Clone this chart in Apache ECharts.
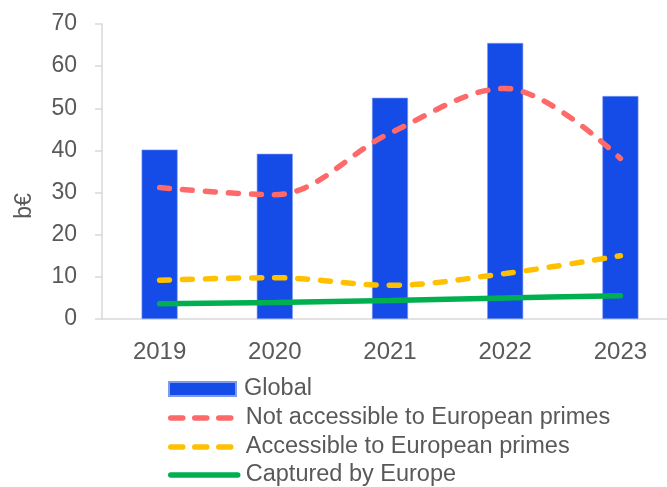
<!DOCTYPE html>
<html>
<head>
<meta charset="utf-8">
<script src="https://cdn.jsdelivr.net/npm/echarts@6/dist/echarts.min.js"></script>
<style>
  html, body { margin: 0; padding: 0; background: #ffffff; }
  #chart { width: 667px; height: 487px; }
</style>
</head>
<body>
<div id="chart"></div>
<script>
// Market size by year, in billions of euros
const years = ['2019', '2020', '2021', '2022', '2023'];
const globalValues = [40.2, 39.2, 52.5, 65.5, 52.9];
const notAccessible = [31.2, 29.5, 44.1, 54.7, 38.1];
const accessible = [9.2, 9.8, 8.0, 10.8, 15.0];
const captured = [3.6, 3.9, 4.4, 5.0, 5.5];
const yTicks = { min: 0, max: 70, interval: 10 };

const seriesNames = [
  'Global',
  'Not accessible to European primes',
  'Accessible to European primes',
  'Captured by Europe'
];

const FONT = '"Liberation Sans", Arial, sans-serif';
const TEXT = '#595959';
const AXIS = '#D9D9D9';
const COLORS = { global: '#154BE6', notAcc: '#FE6A6A', acc: '#FFC000', captured: '#00B050' };

function dashedLine(name, data, color) {
  return {
    name: name,
    type: 'line',
    data: data,
    smooth: 0.35,
    symbol: 'none',
    lineStyle: { color: color, width: 5.5, type: [10, 13], cap: 'round' },
    itemStyle: { color: color }
  };
}

// legend entries for lines: hide the marker, keep a thick line sample
function lineLegend(name, dashed) {
  return {
    name: name,
    itemStyle: { opacity: 0 },
    lineStyle: { width: 5.5, type: dashed ? [12, 12] : 'solid', cap: 'round' }
  };
}

// one legend row per component, stacked in a single column
function legendRow(top, item) {
  return {
    orient: 'horizontal',
    left: 168,
    top: top,
    padding: 0,
    itemWidth: 67,
    itemHeight: 14,
    selectedMode: false,
    textStyle: { color: TEXT, fontSize: 23.5, fontFamily: FONT, lineHeight: 22, padding: [0, 0, 0, 3] },
    data: [item]
  };
}

const chart = echarts.init(document.getElementById('chart'), null, { renderer: 'canvas' });
chart.setOption({
  animation: false,
  backgroundColor: '#ffffff',
  grid: { left: 102, top: 24, bottom: 168, width: 576, outerBoundsMode: 'none' },
  xAxis: {
    type: 'category',
    data: years,
    axisLine: { show: true, lineStyle: { color: AXIS, width: 1.5 } },
    axisTick: { show: false },
    axisLabel: { color: TEXT, fontSize: 24, fontFamily: FONT, margin: 21 }
  },
  yAxis: {
    type: 'value',
    min: yTicks.min,
    max: yTicks.max,
    interval: yTicks.interval,
    splitLine: { show: false },
    axisLine: { show: true, lineStyle: { color: AXIS, width: 1.5 } },
    axisTick: { show: true, length: 7, lineStyle: { color: AXIS, width: 1.5 } },
    axisLabel: { color: TEXT, fontSize: 23, fontFamily: FONT, margin: 25 }
  },
  legend: [
    legendRow(377, { name: seriesNames[0], icon: 'rect' }),
    legendRow(406, lineLegend(seriesNames[1], true)),
    legendRow(435, lineLegend(seriesNames[2], true)),
    legendRow(463, lineLegend(seriesNames[3], false))
  ],
  graphic: [{
    type: 'text',
    x: 25,
    y: 206,
    rotation: Math.PI / 2,
    style: {
      text: 'b€',
      fill: TEXT,
      font: '23px ' + FONT,
      align: 'center',
      verticalAlign: 'middle'
    }
  }],
  series: [
    {
      name: seriesNames[0],
      type: 'bar',
      data: globalValues,
      barWidth: 36,
      itemStyle: { color: COLORS.global, borderColor: '#7E9BF0', borderWidth: 0.6 }
    },
    dashedLine(seriesNames[1], notAccessible, COLORS.notAcc),
    dashedLine(seriesNames[2], accessible, COLORS.acc),
    {
      name: seriesNames[3],
      type: 'line',
      data: captured,
      smooth: 0.35,
      symbol: 'none',
      lineStyle: { color: COLORS.captured, width: 5.5, cap: 'round' },
      itemStyle: { color: COLORS.captured }
    }
  ]
});
</script>
</body>
</html>
